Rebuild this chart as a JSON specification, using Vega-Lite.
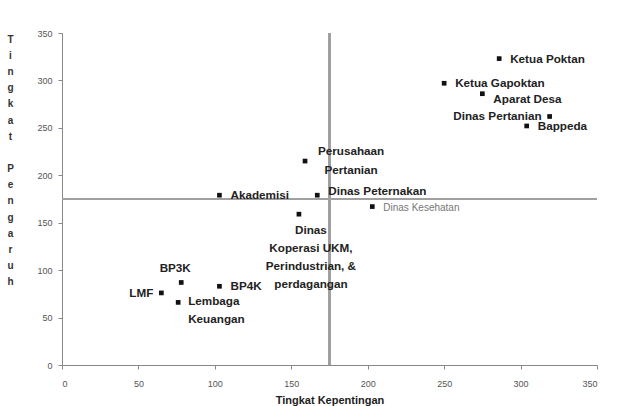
{
  "$schema": "https://vega.github.io/schema/vega-lite/v6.json",
  "width": 535,
  "height": 332,
  "autosize": {"type": "none"},
  "padding": {"left": 62, "top": 33, "right": 30, "bottom": 41},
  "background": "white",
  "config": {
    "view": {"stroke": null},
    "font": "Liberation Sans",
    "text": {"lineBreak": "\n"}
  },
  "data": {
    "values": [
      {"name": "Ketua Poktan", "kepentingan": 286, "pengaruh": 323},
      {"name": "Ketua Gapoktan", "kepentingan": 250, "pengaruh": 297},
      {"name": "Aparat Desa", "kepentingan": 275, "pengaruh": 286},
      {"name": "Dinas Pertanian", "kepentingan": 319, "pengaruh": 262},
      {"name": "Bappeda", "kepentingan": 304, "pengaruh": 252},
      {"name": "Perusahaan\nPertanian", "kepentingan": 159, "pengaruh": 215},
      {"name": "Akademisi", "kepentingan": 103, "pengaruh": 179},
      {"name": "Dinas Peternakan", "kepentingan": 167, "pengaruh": 179},
      {"name": "Dinas Kesehatan", "kepentingan": 203, "pengaruh": 167},
      {"name": "Dinas\nKoperasi UKM,\nPerindustrian, &\nperdagangan", "kepentingan": 155, "pengaruh": 159},
      {"name": "BP3K", "kepentingan": 78, "pengaruh": 87},
      {"name": "LMF", "kepentingan": 65, "pengaruh": 76},
      {"name": "BP4K", "kepentingan": 103, "pengaruh": 83},
      {"name": "Lembaga\nKeuangan", "kepentingan": 76, "pengaruh": 66}
    ]
  },
  "encoding": {
    "x": {
      "field": "kepentingan", "type": "quantitative",
      "scale": {"domain": [0, 350], "nice": false},
      "axis": {
        "title": "Tingkat Kepentingan",
        "values": [0, 50, 100, 150, 200, 250, 300, 350],
        "grid": false,
        "domainColor": "#888", "tickColor": "#888", "tickSize": 4,
        "labelFontSize": 9, "labelColor": "#555", "labelPadding": 10,
        "titleFontSize": 11, "titleFontWeight": "bold", "titleColor": "#222", "titlePadding": 6
      }
    },
    "y": {
      "field": "pengaruh", "type": "quantitative",
      "scale": {"domain": [0, 350], "nice": false},
      "axis": {
        "title": ["T", "i", "n", "g", "k", "a", "t", "\u2800", "P", "e", "n", "g", "a", "r", "u", "h"],
        "titleAngle": 0, "titleX": -52, "titleY": 1, "titleBaseline": "top", "titleAlign": "center",
        "titleLineHeight": 16.2, "titleFontSize": 10, "titleFontWeight": "bold", "titleColor": "#333",
        "values": [0, 50, 100, 150, 200, 250, 300, 350],
        "grid": false,
        "domainColor": "#888", "tickColor": "#888", "tickSize": 4,
        "labelFontSize": 9, "labelColor": "#555", "labelPadding": 6
      }
    }
  },
  "layer": [
    {"mark": {"type": "rule", "color": "#a0a0a0", "strokeWidth": 1.5}, "encoding": {"x": {"datum": 175}, "y": null}},
    {"mark": {"type": "rule", "color": "#a0a0a0", "strokeWidth": 1.5}, "encoding": {"y": {"datum": 175}, "x": null}},
    {"mark": {"type": "point", "shape": "square", "filled": true, "color": "#111", "size": 22, "opacity": 1}},
    {
      "transform": [{"filter": {"field": "name", "oneOf": ["Ketua Poktan", "Ketua Gapoktan", "Bappeda", "Akademisi", "BP4K"]}}],
      "mark": {"type": "text", "align": "left", "baseline": "middle", "dx": 11, "fontSize": 11.7, "fontWeight": "bold", "color": "#222"},
      "encoding": {"text": {"field": "name"}}
    },
    {
      "transform": [{"filter": {"field": "name", "equal": "Aparat Desa"}}],
      "mark": {"type": "text", "align": "left", "baseline": "middle", "dx": 11, "dy": 5, "fontSize": 11.7, "fontWeight": "bold", "color": "#222"},
      "encoding": {"text": {"field": "name"}}
    },
    {
      "transform": [{"filter": {"field": "name", "equal": "Dinas Peternakan"}}],
      "mark": {"type": "text", "align": "left", "baseline": "middle", "dx": 11, "dy": -4, "fontSize": 11.7, "fontWeight": "bold", "color": "#222"},
      "encoding": {"text": {"field": "name"}}
    },
    {
      "transform": [{"filter": {"field": "name", "equal": "Dinas Kesehatan"}}],
      "mark": {"type": "text", "align": "left", "baseline": "middle", "dx": 11, "dy": 1, "fontSize": 10, "color": "#777"},
      "encoding": {"text": {"field": "name"}}
    },
    {
      "transform": [{"filter": {"field": "name", "oneOf": ["LMF", "Dinas Pertanian"]}}],
      "mark": {"type": "text", "align": "right", "baseline": "middle", "dx": -8, "fontSize": 11.7, "fontWeight": "bold", "color": "#222"},
      "encoding": {"text": {"field": "name"}}
    },
    {
      "transform": [{"filter": {"field": "name", "equal": "Perusahaan\nPertanian"}}],
      "mark": {"type": "text", "align": "center", "baseline": "middle", "dx": 46, "dy": -10, "fontSize": 11.7, "fontWeight": "bold", "color": "#222", "lineHeight": 19},
      "encoding": {"text": {"field": "name"}}
    },
    {
      "transform": [{"filter": {"field": "name", "equal": "Dinas\nKoperasi UKM,\nPerindustrian, &\nperdagangan"}}],
      "mark": {"type": "text", "align": "center", "baseline": "top", "dx": 12, "dy": 11, "fontSize": 11.7, "fontWeight": "bold", "color": "#222", "lineHeight": 18},
      "encoding": {"text": {"field": "name"}}
    },
    {
      "transform": [{"filter": {"field": "name", "equal": "BP3K"}}],
      "mark": {"type": "text", "align": "center", "baseline": "bottom", "dx": -6, "dy": -8, "fontSize": 11.7, "fontWeight": "bold", "color": "#222"},
      "encoding": {"text": {"field": "name"}}
    },
    {
      "transform": [{"filter": {"field": "name", "equal": "Lembaga\nKeuangan"}}],
      "mark": {"type": "text", "align": "left", "baseline": "top", "dx": 10, "dy": -6, "fontSize": 11.7, "fontWeight": "bold", "color": "#222", "lineHeight": 18},
      "encoding": {"text": {"field": "name"}}
    }
  ]
}
